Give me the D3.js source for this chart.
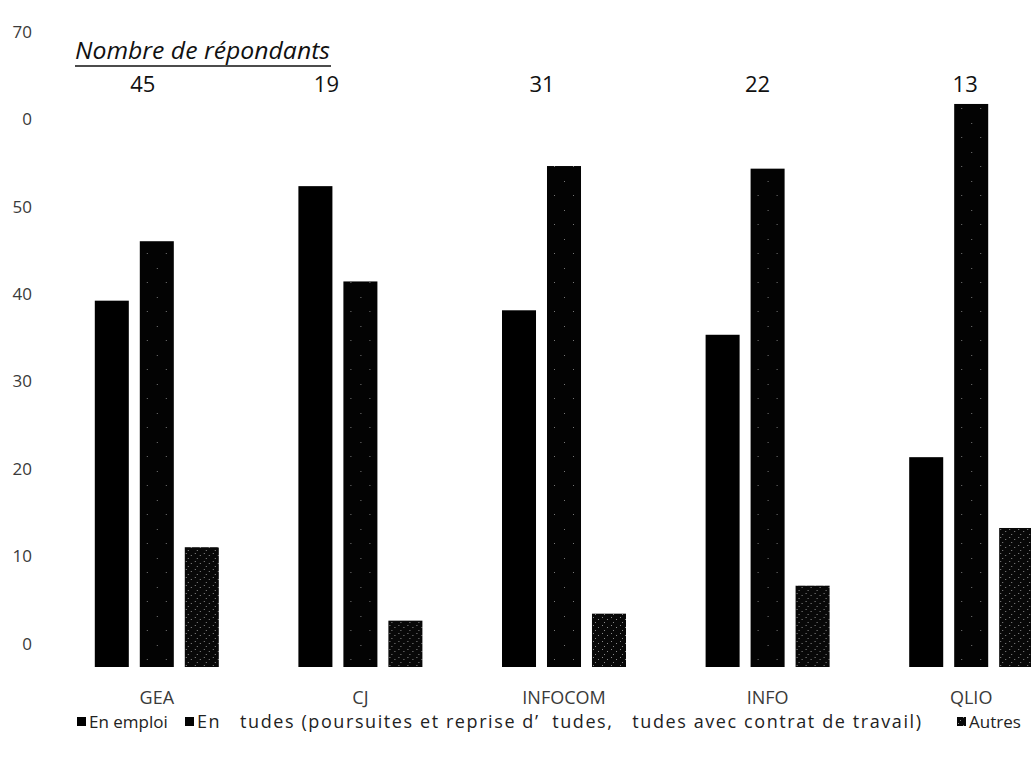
<!DOCTYPE html>
<html>
<head>
<meta charset="utf-8">
<script src="https://cdn.jsdelivr.net/npm/d3@7"></script>
<style>
  body { margin: 0; background: #fff; }
  svg { display: block; font-family: "Open Sans", Lato, sans-serif; }
  .leg text { white-space: pre; }
</style>
</head>
<body>
<div id="chart"></div>
<script>
// categories, series and values
const categories = ["GEA", "CJ", "INFOCOM", "INFO", "QLIO"];
const respondents = [45, 19, 31, 22, 13];
const seriesNames = ["En emploi", "En   tudes (poursuites et reprise d’  tudes,   tudes avec contrat de travail)", "Autres"];
const enEmploi = [41.9, 55.0, 40.8, 38.0, 24.0];
const enEtudes = [48.7, 44.1, 57.3, 57.0, 64.4];
const autres = [13.7, 5.3, 6.1, 9.3, 15.9];
const tickValues = [0, 10, 20, 30, 40, 50, 60, 70];
const tickLabels = ["0", "10", "20", "30", "40", "50", "0", "70"];

// layout
const width = 1031;
const height = 758;
const baseY = 667;
const topY = 55;
const countNudge = [-14, -34, -22, -10, -6];

const svg = d3.select("#chart")
    .append("svg")
    .attr("width", width)
    .attr("height", height);

// textures for the scanned fills
const defs = svg.append("defs");
const pStudy = defs.append("pattern")
    .attr("id", "pStudy").attr("patternUnits", "userSpaceOnUse")
    .attr("width", 19).attr("height", 29);
pStudy.append("rect").attr("width", 19).attr("height", 29).attr("fill", "#030303");
[[5, 7], [14, 21]].forEach(([x, y]) =>
    pStudy.append("rect").attr("x", x).attr("y", y).attr("width", 1).attr("height", 1).attr("fill", "#777"));

const pOther = defs.append("pattern")
    .attr("id", "pOther").attr("patternUnits", "userSpaceOnUse")
    .attr("width", 9).attr("height", 8);
pOther.append("rect").attr("width", 9).attr("height", 8).attr("fill", "#080808");
[[1, 1], [6, 3], [3, 6]].forEach(([x, y]) =>
    pOther.append("rect").attr("x", x).attr("y", y).attr("width", 1).attr("height", 1).attr("fill", "#8a8a8a"));

const fills = ["#000", "url(#pStudy)", "url(#pOther)"];

const x = d3.scaleBand().domain(categories).range([55, 1073]).padding(0);
const xs = d3.scaleBand().domain(d3.range(3)).range([0, 124]).paddingInner(0.244).paddingOuter(0);
const groupOff = (x.bandwidth() - 124) / 2;
const y = d3.scaleLinear().domain([0, 70]).range([baseY, topY]);

// y axis: labels only, shifted up like in the scan
const yAxis = svg.append("g")
    .attr("transform", "translate(32,0)")
    .call(d3.axisLeft(y).tickValues(tickValues).tickSize(0).tickPadding(0)
        .tickFormat((d, i) => tickLabels[i]));
yAxis.select(".domain").remove();
yAxis.selectAll("text")
    .attr("dy", "-1.05em")
    .attr("fill", "#3a3a3a")
    .style("font-size", "17px")
    .style("font-family", "'Open Sans', sans-serif");

// bars
const series = [enEmploi, enEtudes, autres];
const groups = svg.selectAll("g.grp")
    .data(categories)
    .enter().append("g")
    .attr("class", "grp")
    .attr("transform", (d) => "translate(" + (x(d) + groupOff) + ",0)");

groups.selectAll("rect")
    .data((d, i) => series.map((s, k) => ({ k: k, v: s[i] })))
    .enter().append("rect")
    .attr("x", (d) => xs(d.k))
    .attr("width", xs.bandwidth())
    .attr("y", (d) => y(d.v))
    .attr("height", (d) => baseY - y(d.v))
    .attr("fill", (d) => fills[d.k]);

// category labels
svg.selectAll("text.cat")
    .data(categories)
    .enter().append("text")
    .attr("class", "cat")
    .attr("x", (d) => x(d) + x.bandwidth() / 2)
    .attr("y", 704)
    .attr("text-anchor", "middle")
    .attr("fill", "#3a3a3a")
    .style("font-size", "18px")
    .text((d) => d);

// respondents header
svg.append("text")
    .attr("x", 75)
    .attr("y", 59)
    .attr("textLength", 255)
    .attr("lengthAdjust", "spacingAndGlyphs")
    .style("font-size", "23px")
    .style("font-style", "italic")
    .attr("fill", "#111")
    .text("Nombre de répondants");
svg.append("line")
    .attr("x1", 75).attr("x2", 331)
    .attr("y1", 66).attr("y2", 66)
    .attr("stroke", "#111").attr("stroke-width", 1.5);

svg.selectAll("text.cnt")
    .data(respondents)
    .enter().append("text")
    .attr("class", "cnt")
    .attr("x", (d, i) => x(categories[i]) + x.bandwidth() / 2 + countNudge[i])
    .attr("y", 92)
    .attr("text-anchor", "middle")
    .attr("fill", "#111")
    .style("font-size", "22px")
    .text((d) => d);

// legend
const legendX = [77, 185, 957];
const legend = svg.selectAll("g.leg")
    .data(seriesNames)
    .enter().append("g")
    .attr("class", "leg")
    .attr("transform", (d, i) => "translate(" + legendX[i] + ",722)");
legend.append("rect")
    .attr("x", 0).attr("y", -5)
    .attr("width", 9).attr("height", 9)
    .attr("fill", (d, i) => fills[i]);
legend.append("text")
    .attr("x", 12)
    .attr("y", 6)
    .attr("fill", "#222")
    .style("font-size", "17px")
    .text((d) => d);
// the long entry is spread wider in the scan
legend.filter((d, i) => i === 1).select("text")
    .style("font-size", "18px")
    .attr("textLength", 724)
    .attr("lengthAdjust", "spacing");
</script>
</body>
</html>
